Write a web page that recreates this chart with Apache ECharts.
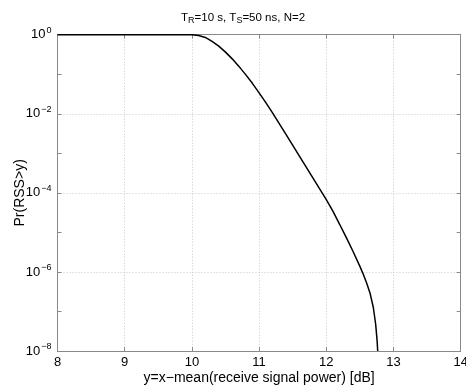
<!DOCTYPE html>
<html>
<head>
<meta charset="utf-8">
<script src="https://cdn.jsdelivr.net/npm/echarts@6/dist/echarts.min.js"></script>
<style>html,body{margin:0;padding:0;background:#fff}#c{width:466px;height:386px}</style>
</head>
<body>
<div id="c"></div>
<script>
// Data
var xValues = [8, 9, 10, 10.1, 10.2, 10.3, 10.4, 10.5, 10.6, 10.7, 10.8, 10.9, 11.0, 11.1, 11.2, 11.4, 11.6, 11.8, 12.0, 12.1, 12.2, 12.3, 12.4, 12.5, 12.55, 12.6, 12.65, 12.7, 12.735, 12.755, 12.765];
var prValues = [1, 1, 1, 0.955, 0.851, 0.676, 0.513, 0.363, 0.245, 0.158, 0.0977, 0.0589, 0.0339, 0.0191, 0.0105, 3.02e-3, 8.51e-4, 2.40e-4, 6.76e-5, 3.39e-5, 1.58e-5, 7.24e-6, 3.24e-6, 1.38e-6, 8.71e-7, 5.25e-7, 2.95e-7, 1.26e-7, 4.68e-8, 1.91e-8, 1e-8];
var xTicks = [8, 9, 10, 11, 12, 13, 14];
var yMin = 1e-8, yMax = 1;

var FONT = 'Liberation Sans, Arial, sans-serif';
var AXIS_COLOR = '#8a8a8a';
var GRID_COLOR = '#c8c8c8';

function expLabel(v) {
  var e = Math.round(Math.log10(v));
  if (e % 2 !== 0) return '';
  return '{b|10}{s|' + (e < 0 ? '\u2212' + (-e) : e) + '}';
}
var richLab = {
  b: {fontSize: 13, fontFamily: FONT, color: '#000'},
  s: {fontSize: 9, fontFamily: FONT, color: '#000', padding: [0, 0, 9, 1]}
};

var chart = echarts.init(document.getElementById('c'), null, {renderer: 'canvas'});
chart.setOption({
  backgroundColor: '#fff',
  animation: false,
  title: {
    text: 'T{sub|R}=10 s, T{sub|S}=50 ns, N=2',
    left: 176, top: 5,
    textStyle: {
      fontSize: 11.5, fontWeight: 'normal', fontFamily: FONT, color: '#000',
      rich: {sub: {fontSize: 9, fontFamily: FONT, color: '#000', padding: [6, 0, 0, 0]}}
    }
  },
  grid: {left: 57.5, right: 5.3, top: 34.7, bottom: 35, containLabel: false, outerBoundsMode: 'none'},
  xAxis: [{
    type: 'value', min: 8, max: 14, interval: 1, position: 'bottom',
    name: 'y=x\u2212mean(receive signal power) [dB]', nameLocation: 'middle', nameGap: 20, nameMoveOverlap: false,
    nameTextStyle: {fontSize: 14, fontFamily: FONT, color: '#000'},
    axisLine: {show: true, onZero: false, lineStyle: {color: AXIS_COLOR, width: 1}},
    axisTick: {show: true, inside: true, length: 4, lineStyle: {color: AXIS_COLOR}},
    axisLabel: {fontSize: 13, fontFamily: FONT, color: '#000', margin: 5, showMaxLabel: true, hideOverlap: false},
    splitLine: {show: true, lineStyle: {color: GRID_COLOR, type: [1, 2], width: 1}}
  }, {
    type: 'value', min: 8, max: 14, interval: 1, position: 'top',
    axisLine: {show: true, onZero: false, lineStyle: {color: AXIS_COLOR, width: 1}},
    axisTick: {show: true, inside: true, length: 4, lineStyle: {color: AXIS_COLOR}},
    axisLabel: {show: false}, splitLine: {show: false}
  }],
  yAxis: [{
    type: 'log', logBase: 10, min: yMin, max: yMax, interval: 1, splitNumber: 8, position: 'left',
    name: 'Pr(RSS>y)', nameLocation: 'middle', nameGap: 30, nameRotate: 90, nameMoveOverlap: false,
    nameTextStyle: {fontSize: 14, fontFamily: FONT, color: '#000'},
    axisLine: {show: true, onZero: false, lineStyle: {color: AXIS_COLOR, width: 1}},
    axisTick: {show: true, inside: true, length: 4, lineStyle: {color: AXIS_COLOR}},
    axisLabel: {formatter: expLabel, rich: richLab, margin: 6},
    splitLine: {show: false}
  }, {
    type: 'log', logBase: 10, min: yMin, max: yMax, interval: 1, splitNumber: 8, position: 'right',
    axisLine: {show: true, onZero: false, lineStyle: {color: AXIS_COLOR, width: 1}},
    axisTick: {show: true, inside: true, length: 4, lineStyle: {color: AXIS_COLOR}},
    axisLabel: {show: false}, splitLine: {show: false}
  }, {
    type: 'log', logBase: 10, min: yMin, max: yMax, interval: 2, splitNumber: 4, position: 'left',
    axisLine: {show: false}, axisTick: {show: false}, axisLabel: {show: false},
    splitLine: {show: true, lineStyle: {color: GRID_COLOR, type: [1, 2], width: 1}}
  }],
  series: [{
    type: 'line', xAxisIndex: 0, yAxisIndex: 0,
    data: xValues.map(function (x, i) { return [x, prValues[i]]; }),
    showSymbol: false, smooth: false,
    lineStyle: {color: '#000', width: 1.5},
    clip: true
  }]
});
</script>
</body>
</html>
